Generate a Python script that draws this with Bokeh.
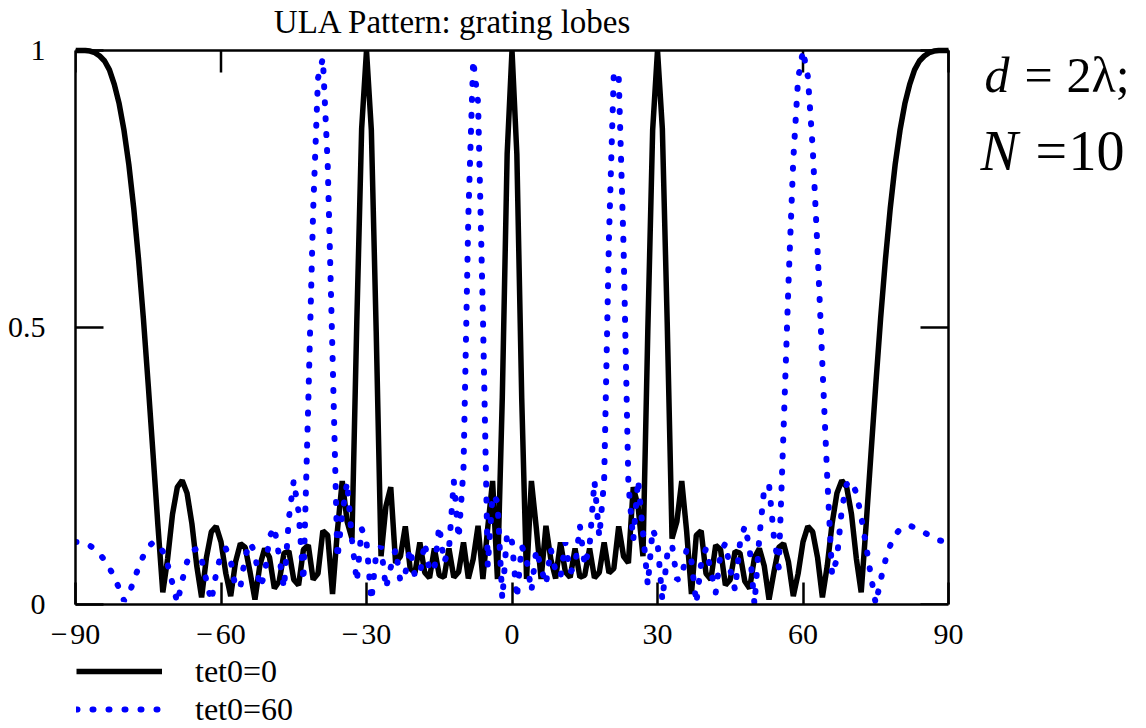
from bokeh.plotting import figure
from bokeh.layouts import column
from bokeh.models import (Range1d, FixedTicker, Legend, LegendItem, Label)
from bokeh.embed import file_html
from bokeh.resources import INLINE

# ---- data (1 degree sampling) ----
theta = list(range(-90, 91))

tet0_0 = [
    1.0, 1.0, 1.0, 0.999, 0.996, 0.990, 0.981, 0.965, 0.939, 0.904,
    0.856, 0.794, 0.716, 0.623, 0.516, 0.396, 0.270, 0.142, 0.022, 0.083,
    0.163, 0.212, 0.224, 0.201, 0.146, 0.070, 0.013, 0.085, 0.131, 0.141,
    0.113, 0.056, 0.015, 0.077, 0.110, 0.103, 0.058, 0.009, 0.070, 0.101,
    0.085, 0.029, 0.042, 0.093, 0.096, 0.045, 0.035, 0.099, 0.107, 0.045,
    0.056, 0.133, 0.125, 0.019, 0.133, 0.223, 0.150, 0.119, 0.510, 0.859,
    1.0, 0.856, 0.493, 0.087, 0.177, 0.212, 0.075, 0.087, 0.141, 0.065,
    0.057, 0.112, 0.058, 0.048, 0.101, 0.053, 0.049, 0.101, 0.049, 0.059,
    0.112, 0.047, 0.082, 0.142, 0.046, 0.139, 0.223, 0.046, 0.374, 0.813,
    1.0,
    0.813, 0.374, 0.046, 0.223, 0.139, 0.046, 0.142, 0.082, 0.047, 0.112,
    0.059, 0.049, 0.101, 0.049, 0.053, 0.101, 0.048, 0.058, 0.112, 0.057,
    0.065, 0.141, 0.087, 0.075, 0.212, 0.177, 0.087, 0.493, 0.856, 1.0,
    0.859, 0.510, 0.119, 0.150, 0.223, 0.133, 0.019, 0.125, 0.133, 0.056,
    0.045, 0.107, 0.099, 0.035, 0.045, 0.096, 0.093, 0.042, 0.029, 0.085,
    0.101, 0.070, 0.009, 0.058, 0.103, 0.110, 0.077, 0.015, 0.056, 0.113,
    0.141, 0.131, 0.085, 0.013, 0.070, 0.146, 0.201, 0.224, 0.212, 0.163,
    0.083, 0.022, 0.142, 0.270, 0.396, 0.516, 0.623, 0.716, 0.794, 0.856,
    0.904, 0.939, 0.965, 0.981, 0.990, 0.996, 0.999, 1.0, 1.0, 1.0,
]

tet0_60 = [
    0.113, 0.113, 0.110, 0.106, 0.100, 0.091, 0.080, 0.066, 0.049, 0.029,
    0.007, 0.018, 0.043, 0.067, 0.088, 0.104, 0.112, 0.110, 0.096, 0.072,
    0.038, 0.003, 0.043, 0.077, 0.098, 0.100, 0.081, 0.043, 0.006, 0.056,
    0.091, 0.101, 0.079, 0.030, 0.032, 0.087, 0.112, 0.093, 0.031, 0.053,
    0.122, 0.140, 0.086, 0.029, 0.156, 0.224, 0.167, 0.042, 0.366, 0.711,
    0.950, 0.986, 0.795, 0.449, 0.083, 0.164, 0.221, 0.117, 0.041, 0.137,
    0.113, 0.007, 0.092, 0.105, 0.029, 0.067, 0.100, 0.041, 0.056, 0.101,
    0.050, 0.054, 0.112, 0.060, 0.064, 0.142, 0.076, 0.099, 0.223, 0.119,
    0.245, 0.702, 0.983, 0.907, 0.523, 0.069, 0.198, 0.186, 0.010, 0.129,
    0.113,
    0.011, 0.106, 0.082, 0.024, 0.099, 0.066, 0.036, 0.100, 0.059, 0.049,
    0.112, 0.058, 0.069, 0.142, 0.070, 0.106, 0.223, 0.122, 0.224, 0.664,
    0.962, 0.953, 0.647, 0.218, 0.116, 0.225, 0.131, 0.035, 0.136, 0.113,
    0.008, 0.089, 0.108, 0.045, 0.047, 0.100, 0.078, 0.002, 0.074, 0.101,
    0.061, 0.021, 0.092, 0.111, 0.063, 0.026, 0.110, 0.142, 0.101, 0.000,
    0.121, 0.209, 0.216, 0.122, 0.067, 0.317, 0.578, 0.803, 0.950, 1.0,
    0.953, 0.824, 0.640, 0.432, 0.229, 0.053, 0.083, 0.172, 0.217, 0.223,
    0.201, 0.159, 0.107, 0.052, 0.001, 0.044, 0.080, 0.107, 0.125, 0.136,
    0.141, 0.142, 0.139, 0.135, 0.130, 0.125, 0.120, 0.116, 0.114, 0.113,
]

x_ticks = [-90, -60, -30, 0, 30, 60, 90]
x_tick_labels = {-90: "\u2212\u200a90", -60: "\u2212\u200a60", -30: "\u2212\u200a30",
                 0: "0", 30: "30", 60: "60", 90: "90"}
y_ticks = [0, 0.5, 1]
y_tick_labels = {0: "0", 0.5: "0.5", 1: "1"}
series_names = ["tet0=0", "tet0=60"]
X_MIN, X_MAX = -90, 90
Y_MIN, Y_MAX = 0, 1

# ---- layout (pixels) ----
W, H = 1146, 728
L, R, T, B = 75, 948, 50, 604          # plot box in canvas pixels
AXIS_H = 48                             # room for the x tick labels
SERIF = "Liberation Serif"
PX_X = (X_MAX - X_MIN) / float(R - L)  # data units per pixel
PX_Y = (Y_MAX - Y_MIN) / float(B - T)

BLACK_STYLE = dict(line_color="black", line_width=5.5)
BLUE_STYLE = dict(line_color="#0000ff", line_width=6, line_dash="1 15", line_cap="round")

# frame spans to the right and top canvas edges so the side texts can live in it
p = figure(frame_width=W - L, frame_height=B, output_backend="svg", toolbar_location=None,
           x_range=Range1d(X_MIN, X_MAX + (W - R) * PX_X),
           y_range=Range1d(Y_MIN, Y_MAX + T * PX_Y),
           min_border_left=L, min_border_right=0,
           min_border_top=0, min_border_bottom=AXIS_H,
           background_fill_color="white", border_fill_color="white")
p.grid.visible = False
p.outline_line_color = None


def style_axis(ax, ticks, bounds, tick_in, labels, standoff):
    ax.ticker = FixedTicker(ticks=ticks)
    ax.bounds = bounds
    ax.axis_line_width = 2.5
    ax.axis_line_color = "black"
    ax.major_tick_in = tick_in
    ax.major_tick_out = 0
    ax.major_tick_line_width = 2.5
    ax.major_tick_line_color = "black"
    ax.minor_tick_line_color = None
    ax.major_label_text_font = SERIF
    ax.major_label_text_color = "black"
    ax.major_label_text_font_size = "30px"
    ax.major_label_standoff = standoff
    ax.major_label_overrides = labels


style_axis(p.xaxis[0], x_ticks, (X_MIN, X_MAX), 22, x_tick_labels, 12)
style_axis(p.yaxis[0], y_ticks, (Y_MIN, Y_MAX), 28, y_tick_labels, 30)

# top and right edges of the box, with their inward ticks
p.segment(x0=[X_MIN, X_MAX], y0=[Y_MAX, Y_MIN], x1=[X_MAX, X_MAX], y1=[Y_MAX, Y_MAX],
          line_color="black", line_width=2.5)
p.segment(x0=x_ticks, x1=x_ticks, y0=[Y_MAX] * len(x_ticks),
          y1=[Y_MAX - 22 * PX_Y] * len(x_ticks), line_color="black", line_width=2.5)
p.segment(x0=[X_MAX] * len(y_ticks), x1=[X_MAX - 28 * PX_X] * len(y_ticks),
          y0=y_ticks, y1=y_ticks, line_color="black", line_width=2.5)

p.line(theta, tet0_0, **BLACK_STYLE)
p.line(theta, tet0_60, **BLUE_STYLE)


def xd(px):
    return X_MIN + (px - L) * PX_X


def yd(py):
    return Y_MIN + (B - py) * PX_Y


def txt(px, py, s, size, style="normal", align="left"):
    # py is the wanted baseline; the text is drawn about a third of its size lower
    p.add_layout(Label(x=xd(px), y=yd(py - 0.34 * size), text=s, text_font=SERIF,
                       text_font_size="%dpx" % size, text_font_style=style,
                       text_align=align, text_baseline="alphabetic",
                       text_color="black"))


txt(452.5, 33, "ULA Pattern: grating lobes", 33, align="center")
txt(984, 91, "d", 50, style="italic")
txt(1024, 91, "=", 50)
txt(1066, 91, "2\u03bb;", 50)
txt(980, 170, "N", 56, style="italic")
txt(1035, 170, "=", 56)
txt(1068, 170, "10", 56)

# ---- legend strip under the chart (its frame is aligned with the chart's, at x = L) ----
LEG_H = H - B - AXIS_H
q = figure(width=W, height=LEG_H, output_backend="svg", toolbar_location=None,
           x_axis_type=None, y_axis_type=None, x_range=Range1d(0, 1), y_range=Range1d(0, 1),
           min_border_left=L, min_border_right=0, min_border_top=0, min_border_bottom=0,
           background_fill_color="white", border_fill_color="white")
q.grid.visible = False
q.outline_line_color = None
nan = float("nan")
k0 = q.line([nan], [nan], **BLACK_STYLE)
k1 = q.line([nan], [nan], **BLUE_STYLE)
legend = Legend(items=[LegendItem(label=series_names[0], renderers=[k0]),
                       LegendItem(label=series_names[1], renderers=[k1])],
                location=(1, 0), orientation="vertical",
                glyph_width=86, glyph_height=38, label_height=38,
                label_standoff=33, padding=0, spacing=0, margin=0,
                border_line_color=None, background_fill_alpha=0,
                label_text_font=SERIF, label_text_font_size="32px",
                label_text_color="black", label_text_baseline="middle")
q.add_layout(legend, "center")

page = column(p, q, spacing=0)
open("out.html", "w").write(file_html(page, INLINE))
